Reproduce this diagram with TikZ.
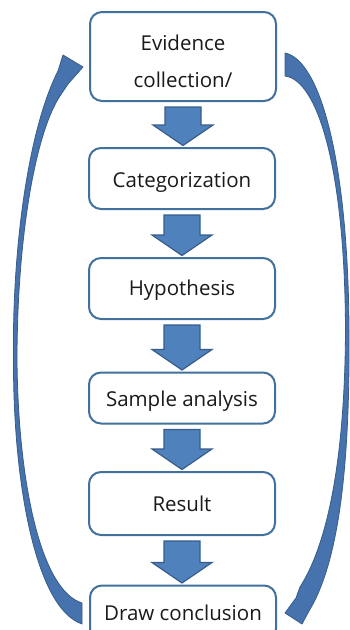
\documentclass[tikz,border=0pt]{standalone}
\usepackage{fontspec}
\setmainfont{Open Sans}
\usetikzlibrary{calc}
\definecolor{boxline}{HTML}{41719C}
\definecolor{arrfill}{HTML}{4F81BD}
\definecolor{arrline}{HTML}{385D8A}
\definecolor{curvefill}{HTML}{4672AD}
\definecolor{txt}{HTML}{1A1A1A}
\tikzset{
  stepbox/.style={draw=boxline, line width=2pt, rounded corners=12pt, fill=white,
    minimum width=186pt, align=center, text=txt, inner sep=0pt,
    font=\fontsize{20.5}{37}\selectfont},
  blockarr/.style={fill=arrfill, draw=arrline, line width=1.2pt, line join=miter},
  curvearr/.style={fill=curvefill, draw=arrline, line width=0.8pt, line join=round},
}
\newcommand\downblock[2]{%
  \path[blockarr] let \p1=(#1.south), \p2=(#2.north) in
    (\x1-18pt,\y1-5pt) -- (\x1+18pt,\y1-5pt) -- (\x1+18pt,\y2+22pt) -- (\x1+30pt,\y2+22pt)
    -- (\x1,\y2+1.5pt) -- (\x1-30pt,\y2+22pt) -- (\x1-18pt,\y2+22pt) -- cycle;}
\newcommand\lowered[2]{\raisebox{-#1}[\height][\depth]{#2}}
\begin{document}
\begin{tikzpicture}[x=1pt,y=-1pt]
\clip (0,0) rectangle (350,630);
\fill[white] (0,0) rectangle (350,630);
% boxes
\node[stepbox, minimum height=89pt] (b1) at (183,56.5)
  {\lowered{5pt}{\begin{tabular}{@{}c@{}}Evidence\\collection/\end{tabular}}};
\node[stepbox, minimum height=61pt] (b2) at (182,178.5) {\lowered{4pt}{Categorization}};
\node[stepbox, minimum height=61pt] (b3) at (182,288.5) {\lowered{1.5pt}{Hypothesis}};
\node[stepbox, minimum height=51pt] (b4) at (182,398) {\lowered{3pt}{Sample analysis}};
\node[stepbox, minimum height=63pt] (b5) at (182,503.5) {Result};
\node[stepbox, minimum height=55pt] (b6) at (183,613) {Draw conclusion};
% block arrows
\downblock{b1}{b2}
\downblock{b2}{b3}
\downblock{b3}{b4}
\downblock{b4}{b5}
\downblock{b5}{b6}
% curved arrows
\path[curvearr] (82,624) .. controls (35,608) and (13,480) .. (13.5,360)
  .. controls (12,250) and (28,130) .. (58,71) -- (63,55) -- (83,67) -- (68,84) -- (62,93)
  .. controls (35,130) and (17,240) .. (17,360)
  .. controls (18,480) and (40,590) .. (82,603) -- cycle;
\path[curvearr] (285,53) .. controls (320,60) and (348,160) .. (349,330)
  .. controls (350,460) and (340,560) .. (309,611) -- (302,624) -- (285,613) -- (296,598) -- (300,587)
  .. controls (330,540) and (345,450) .. (345.5,330)
  .. controls (345,170) and (318,80) .. (285,76) -- cycle;
\end{tikzpicture}
\end{document}
